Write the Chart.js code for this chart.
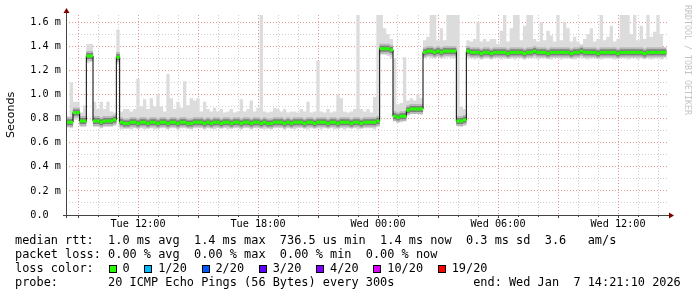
<!DOCTYPE html>
<html>
<head>
<meta charset="utf-8">
<script src="https://cdn.jsdelivr.net/npm/chart.js@4.4.1/dist/chart.umd.min.js"></script>
<style>
  html, body { margin: 0; padding: 0; background: #fff; }
  #wrap { position: relative; width: 697px; height: 297px; }
</style>
</head>
<body>
<div id="wrap"><canvas id="c" width="697" height="297"></canvas></div>
<script>
// samples: one every 10 minutes, minutes counted from Tue 00:00
const sampleStart = 505;
const sampleStep = 10;

// median rtt (ms)
const medianRtt = [
  0.77, 0.77, 0.85, 0.85, 0.78, 0.78, 1.32, 1.32, 0.78, 0.78, 0.77, 0.78, 0.78, 0.78, 0.79, 1.31,
  0.77, 0.76, 0.76, 0.77, 0.77, 0.76, 0.77, 0.77, 0.76, 0.77, 0.77, 0.76, 0.77, 0.77,
  0.76, 0.77, 0.77, 0.76, 0.77, 0.77, 0.76, 0.76, 0.77, 0.77, 0.77, 0.76, 0.77, 0.76, 0.77, 0.77, 0.76, 0.77, 0.77, 0.76,
  0.77, 0.77, 0.76, 0.77, 0.77, 0.76, 0.77, 0.77, 0.76, 0.77, 0.76, 0.76, 0.77, 0.77, 0.77, 0.76, 0.77, 0.76, 0.77, 0.77,
  0.77, 0.76, 0.77, 0.77, 0.76, 0.77, 0.77, 0.77, 0.76, 0.77, 0.77, 0.76, 0.77, 0.77, 0.77, 0.76, 0.77, 0.77, 0.76, 0.77, 0.77, 0.77, 0.77, 0.78,
  1.38, 1.38, 1.38, 1.37,
  0.82, 0.81, 0.82, 0.82,
  0.87, 0.88, 0.88, 0.88, 0.88,
  1.35, 1.36, 1.36, 1.35, 1.36, 1.35, 1.36, 1.36, 1.36, 1.36,
  0.78, 0.78, 0.79,
  1.36, 1.35, 1.35, 1.35, 1.34, 1.35, 1.35, 1.34, 1.35, 1.35,
  1.35, 1.35, 1.34, 1.35, 1.35, 1.35, 1.35, 1.34, 1.35, 1.35,
  1.36, 1.35, 1.35, 1.35, 1.34, 1.35, 1.35, 1.35, 1.35, 1.35,
  1.35, 1.34, 1.35, 1.35, 1.36, 1.35, 1.35, 1.35, 1.35, 1.34,
  1.35, 1.35, 1.35, 1.35, 1.35, 1.34, 1.35, 1.35, 1.35, 1.35,
  1.35, 1.35, 1.35, 1.34, 1.35, 1.35, 1.35, 1.35, 1.35, 1.35
];

// slowest ping of each sample (top of the smoke)
const pingMax = [
  0.82, 1.10, 0.94, 0.94, 0.85, 0.91, 1.42, 1.42, 0.94, 0.88,
  0.94, 0.88, 0.94, 0.86, 0.85, 1.54, 0.86, 0.88, 0.88, 0.86,
  0.88, 1.13, 0.90, 0.96, 0.88, 0.97, 0.90, 1.00, 0.90, 0.86,
  1.17, 0.97, 0.88, 0.94, 0.89, 1.11, 0.91, 0.97, 0.95, 0.97,
  0.86, 0.94, 0.88, 0.86, 0.89, 0.86, 0.88, 0.85, 0.86, 0.88,
  0.85, 0.86, 0.96, 0.86, 0.88, 0.95, 0.86, 0.89, 1.66, 0.86,
  0.85, 0.86, 0.89, 0.88, 0.86, 0.88, 0.85, 0.86, 0.86, 0.85,
  0.88, 0.86, 0.94, 0.85, 0.86, 1.28, 0.86, 0.85, 0.88, 0.85,
  0.86, 1.00, 0.97, 0.86, 0.85, 0.86, 0.88, 1.66, 0.88, 0.86,
  0.88, 0.85, 0.98, 1.66, 1.66, 1.55, 1.50, 1.46, 1.30, 0.92,
  0.93, 1.31, 0.95, 0.97, 0.95, 1.00, 0.97, 1.45, 1.48, 1.66,
  1.66, 1.45, 1.55, 1.45, 1.66, 1.66, 1.66, 1.66, 0.90, 0.88,
  1.45, 1.44, 1.46, 1.60, 1.44, 1.46, 1.44, 1.46, 1.46, 1.42,
  1.53, 1.66, 1.44, 1.55, 1.66, 1.66, 1.45, 1.57, 1.66, 1.66,
  1.46, 1.44, 1.60, 1.45, 1.53, 1.49, 1.44, 1.66, 1.45, 1.60,
  1.55, 1.44, 1.48, 1.44, 1.42, 1.46, 1.50, 1.55, 1.44, 1.46,
  1.66, 1.45, 1.48, 1.57, 1.44, 1.46, 1.66, 1.66, 1.66, 1.50,
  1.66, 1.45, 1.57, 1.46, 1.66, 1.48, 1.52, 1.66, 1.50, 1.46
];

// fastest ping of each sample (bottom of the smoke)
const pingMin = [
  0.73, 0.72, 0.79, 0.79, 0.73, 0.73, 1.26, 1.27, 0.73, 0.73, 0.72, 0.73, 0.73, 0.73, 0.74, 1.25,
  0.71, 0.72, 0.72, 0.71, 0.72, 0.72, 0.72, 0.71, 0.72, 0.72, 0.71, 0.72, 0.72, 0.72, 0.71, 0.72, 0.72, 0.71, 0.72, 0.72,
  0.72, 0.71, 0.72, 0.72, 0.72, 0.71, 0.72, 0.72, 0.71, 0.72, 0.72, 0.72, 0.71, 0.72, 0.72, 0.72, 0.71, 0.72, 0.72, 0.71,
  0.72, 0.72, 0.72, 0.71, 0.72, 0.71, 0.72, 0.72, 0.72, 0.71, 0.72, 0.72, 0.71, 0.72, 0.72, 0.72, 0.71, 0.72, 0.72, 0.72,
  0.71, 0.72, 0.72, 0.72, 0.71, 0.72, 0.72, 0.71, 0.72, 0.72, 0.72, 0.71, 0.72, 0.72, 0.72, 0.72, 0.71, 0.73,
  1.33, 1.33, 1.32, 1.30,
  0.78, 0.77, 0.77, 0.78,
  0.83, 0.84, 0.84, 0.84, 0.83,
  1.30, 1.31, 1.30, 1.30, 1.31, 1.30, 1.30, 1.31, 1.30, 1.30,
  0.74, 0.73, 0.74,
  1.30, 1.30, 1.29, 1.30, 1.29, 1.30, 1.30, 1.29, 1.30, 1.30,
  1.29, 1.30, 1.30, 1.30, 1.29, 1.30, 1.30, 1.29, 1.30, 1.30,
  1.30, 1.29, 1.30, 1.30, 1.30, 1.29, 1.30, 1.30, 1.29, 1.30,
  1.30, 1.30, 1.29, 1.30, 1.30, 1.30, 1.29, 1.30, 1.30, 1.30,
  1.29, 1.30, 1.30, 1.30, 1.29, 1.30, 1.30, 1.30, 1.29, 1.30,
  1.30, 1.29, 1.30, 1.30, 1.30, 1.29, 1.30, 1.30, 1.29, 1.30
];

// axis labels
const timeTickMinutes = [720, 1080, 1440, 1800, 2160];
const timeTickLabels = ['Tue 12:00', 'Tue 18:00', 'Wed 00:00', 'Wed 06:00', 'Wed 12:00'];
const rttTickLabels = ['0.0  ', '0.2 m', '0.4 m', '0.6 m', '0.8 m', '1.0 m', '1.2 m', '1.4 m', '1.6 m'];

// legend
const lossLabels = ['0', '1/20', '2/20', '3/20', '4/20', '10/20', '19/20'];
const lossColors = ['#26ff00', '#00b8ff', '#0059ff', '#5e00ff', '#7e00ff', '#dd00ff', '#ff0000'];
const rttLine = 'median rtt:  1.0 ms avg  1.4 ms max  736.5 us min  1.4 ms now  0.3 ms sd  3.6   am/s';
const lossLine = 'packet loss: 0.00 % avg  0.00 % max  0.00 % min  0.00 % now';
const probeLine = 'probe:       20 ICMP Echo Pings (56 Bytes) every 300s';
const endLine = 'end: Wed Jan  7 14:21:10 2026';

const MONO = '"DejaVu Sans Mono", "Liberation Mono", monospace';

const stepPts = arr => arr.map((v, i) => ({ x: sampleStart + i * sampleStep, y: v }));
const midPts = arr => arr.map((v, i) => ({ x: sampleStart + i * sampleStep + sampleStep / 2, y: v }));

const dashPoints = (color, width) => ({
  showLine: false,
  pointStyle: 'line',
  pointRadius: 1.75,
  pointBorderWidth: width,
  pointBorderColor: color,
  pointBackgroundColor: color
});

// axes, arrows, titles and the text legend under the graph
const rrdDecor = {
  id: 'rrdDecor',
  afterDraw(chart) {
    const ctx = chart.ctx;
    const a = chart.chartArea;
    ctx.save();

    // axis lines
    ctx.strokeStyle = '#444';
    ctx.lineWidth = 1;
    ctx.beginPath();
    ctx.moveTo(a.left + 0.5, a.bottom + 3);
    ctx.lineTo(a.left + 0.5, a.top - 3);
    ctx.moveTo(a.left - 3, a.bottom + 0.5);
    ctx.lineTo(a.right + 2, a.bottom + 0.5);
    ctx.stroke();

    // small tick marks below the time axis
    const xs = chart.scales.x;
    ctx.beginPath();
    for (let m = 540; m <= 2310; m += 60) {
      const px = Math.round(xs.getPixelForValue(m)) + 0.5;
      ctx.moveTo(px, a.bottom);
      ctx.lineTo(px, a.bottom + (m % 180 === 0 ? 3 : 2));
    }
    ctx.stroke();

    // arrows
    ctx.fillStyle = '#800000';
    ctx.beginPath();
    ctx.moveTo(a.left + 0.5, a.top - 7);
    ctx.lineTo(a.left - 2.5, a.top - 2);
    ctx.lineTo(a.left + 3.5, a.top - 2);
    ctx.closePath();
    ctx.fill();
    ctx.beginPath();
    ctx.moveTo(a.right + 6, a.bottom + 0.5);
    ctx.lineTo(a.right + 1, a.bottom - 2.5);
    ctx.lineTo(a.right + 1, a.bottom + 3.5);
    ctx.closePath();
    ctx.fill();

    // y title
    ctx.fillStyle = '#000';
    ctx.font = '11px "DejaVu Sans", sans-serif';
    ctx.textAlign = 'center';
    ctx.textBaseline = 'middle';
    ctx.save();
    ctx.translate(11, (a.top + a.bottom) / 2);
    ctx.rotate(-Math.PI / 2);
    ctx.fillText('Seconds', 0, 0);
    ctx.restore();

    // watermark on the right
    ctx.save();
    ctx.fillStyle = '#c4c4c4';
    ctx.font = '8.3px ' + MONO;
    ctx.textAlign = 'left';
    ctx.translate(687, 5);
    ctx.rotate(Math.PI / 2);
    ctx.fillText('RRDTOOL / TOBI OETIKER', 0, 0);
    ctx.restore();

    // legend text
    ctx.font = '11.9px ' + MONO;
    ctx.textAlign = 'left';
    ctx.textBaseline = 'middle';
    ctx.fillStyle = '#000';
    const x0 = 15;
    const cw = ctx.measureText('0').width;
    ctx.fillText(rttLine, x0, 241);
    ctx.fillText(lossLine, x0, 255);
    ctx.fillText('loss color:', x0, 269);
    let col = 13;
    lossLabels.forEach((lab, i) => {
      const sx = Math.round(x0 + col * cw + 0.5);
      ctx.fillStyle = '#000';
      ctx.fillRect(sx, 265, 8, 8);
      ctx.fillStyle = lossColors[i];
      ctx.fillRect(sx + 1, 266, 6, 6);
      ctx.fillStyle = '#000';
      ctx.fillText(lab, x0 + (col + 2) * cw, 269);
      col += 2 + lab.length + 2;
    });
    ctx.fillText(probeLine, x0, 283);
    ctx.fillText(endLine, x0 + 64 * cw, 283);

    ctx.restore();
  }
};

new Chart(document.getElementById('c'), {
  type: 'line',
  data: {
    datasets: [
      Object.assign({ data: midPts(medianRtt), order: 0 }, dashPoints('#26ff00', 3)),
      {
        data: stepPts(medianRtt), order: 1, stepped: 'before',
        borderColor: '#000', borderWidth: 1, pointRadius: 0, fill: false
      },
      Object.assign({ data: midPts(medianRtt), order: 2 }, dashPoints('#7c7c7c', 6)),
      Object.assign({ data: midPts(medianRtt), order: 3 }, dashPoints('#b8b8b8', 10)),
      {
        data: stepPts(pingMin), order: 5, stepped: 'before',
        borderWidth: 0, borderColor: 'rgba(0,0,0,0)', pointRadius: 0, fill: false
      },
      {
        data: stepPts(pingMax), order: 4, stepped: 'before',
        borderWidth: 0, borderColor: 'rgba(0,0,0,0)', pointRadius: 0,
        fill: 4, backgroundColor: '#dcdcdc'
      }
    ]
  },
  options: {
    responsive: false,
    animation: false,
    events: [],
    devicePixelRatio: 1,
    layout: { padding: { left: 0, right: 29, top: 15, bottom: 0 } },
    plugins: { legend: { display: false }, tooltip: { enabled: false } },
    scales: {
      x: {
        type: 'linear',
        min: 504,
        max: 2310,
        afterFit: s => { s.height = 82; },
        border: { display: false, dash: [1, 2] },
        grid: {
          drawTicks: false,
          color: c => {
            const v = c.tick.value;
            if (v % 180 === 0) return 'rgba(225,80,80,0.6)';
            if (v % 60 === 0) return 'rgba(160,160,160,0.5)';
            return 'rgba(0,0,0,0)';
          }
        },
        ticks: {
          stepSize: 60,
          includeBounds: false,
          maxTicksLimit: 100,
          autoSkip: false,
          maxRotation: 0,
          padding: 3,
          color: '#000',
          font: { family: MONO, size: 10.2 },
          callback: v => {
            const k = timeTickMinutes.indexOf(v);
            return k >= 0 ? timeTickLabels[k] : '';
          }
        }
      },
      y: {
        min: 0,
        max: 1.66,
        afterFit: s => { s.width = 66; },
        border: { display: false, dash: [1, 2] },
        grid: {
          drawTicks: false,
          color: c => {
            const v = c.tick.value * 10;
            const k = Math.round(v);
            if (Math.abs(v - k) > 1e-6) return 'rgba(0,0,0,0)';
            return k % 2 === 0 ? 'rgba(225,80,80,0.6)' : 'rgba(160,160,160,0.5)';
          }
        },
        ticks: {
          stepSize: 0.1,
          includeBounds: false,
          autoSkip: false,
          padding: 5,
          color: '#000',
          font: { family: MONO, size: 10.2 },
          callback: v => {
            const k = Math.round(v * 10);
            if (Math.abs(v * 10 - k) > 1e-6 || k % 2) return '';
            return rttTickLabels[k / 2];
          }
        }
      }
    }
  },
  plugins: [rrdDecor]
});
</script>
</body>
</html>
